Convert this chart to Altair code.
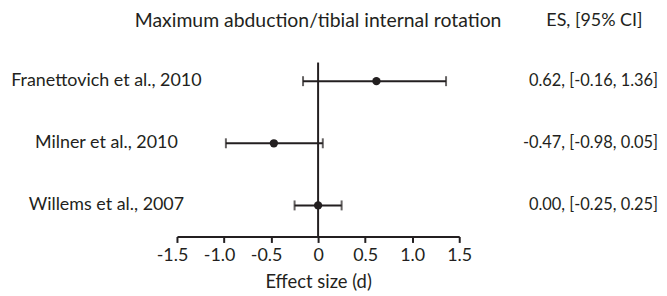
import altair as alt
import pandas as pd

# ---- data ----
studies = ["Franettovich et al., 2010", "Milner et al., 2010", "Willems et al., 2007"]
row_pos = [3, 2, 1]
es = [0.62, -0.47, 0.00]
ci_low = [-0.16, -0.98, -0.25]
ci_high = [1.36, 0.05, 0.25]
ci_text = ["0.62, [-0.16, 1.36]", "-0.47, [-0.98, 0.05]", "0.00, [-0.25, 0.25]"]
x_ticks = [-1.5, -1.0, -0.5, 0, 0.5, 1.0, 1.5]
main_title = "Maximum abduction/tibial internal rotation"
ci_header = "ES, [95% CI]"
x_title = "Effect size (d)"

FONT = "Lato"
INK = "#231f20"

df = pd.DataFrame({"study": studies, "row": row_pos, "es": es,
                   "lo": ci_low, "hi": ci_high, "ci": ci_text})
zero_df = pd.DataFrame({"x": [0.0], "y": [0.5], "y2": [3.3]})
head_df = pd.DataFrame({"x": [0.0], "t": [main_title], "h": [ci_header]})

xscale = alt.Scale(domain=[-1.5, 1.5], nice=False, zero=False)
yscale = alt.Scale(domain=[0.5, 3.3], nice=False, zero=False)

label_expr = "datum.value == 0 ? '0' : (datum.value < 0 ? '-' : '') + format(abs(datum.value), '.1f')"

xaxis = alt.Axis(values=x_ticks, title=x_title, labelExpr=label_expr,
                 grid=False, domainColor=INK, domainWidth=2, tickColor=INK,
                 tickWidth=2, tickSize=6, labelFont=FONT, labelFontSize=18,
                 labelColor=INK, labelPadding=4, labelFlush=False, labelOverlap=False,
                 titleFont=FONT, titleFontSize=18.5,
                 titleFontWeight="normal", titleColor=INK, titlePadding=8,
                 labelOffset={"condition": {"test": "datum.value < 0", "value": -5}, "value": 0})

base = alt.Chart(df)

zero_rule = alt.Chart(zero_df).mark_rule(color=INK, strokeWidth=2).encode(
    x=alt.X("x:Q", scale=xscale, axis=xaxis),
    y=alt.Y("y:Q", scale=yscale, axis=None),
    y2="y2:Q",
)

bars = base.mark_rule(color=INK, strokeWidth=2).encode(
    x=alt.X("lo:Q", scale=xscale), x2="hi:Q",
    y=alt.Y("row:Q", scale=yscale))

cap_lo = base.mark_tick(orient="vertical", color=INK, thickness=2, size=10).encode(
    x=alt.X("lo:Q", scale=xscale), y=alt.Y("row:Q", scale=yscale))
cap_hi = base.mark_tick(orient="vertical", color=INK, thickness=2, size=10).encode(
    x=alt.X("hi:Q", scale=xscale), y=alt.Y("row:Q", scale=yscale))

points = base.mark_point(filled=True, color=INK, size=70, opacity=1).encode(
    x=alt.X("es:Q", scale=xscale), y=alt.Y("row:Q", scale=yscale))

left_labels = base.mark_text(align="center", baseline="middle", font=FONT,
                             fontSize=18, color=INK).encode(
    x=alt.value(-71), y=alt.Y("row:Q", scale=yscale), text="study:N")

right_labels = base.mark_text(align="right", baseline="middle", font=FONT,
                              fontSize=16.5, color=INK).encode(
    x=alt.value(484), y=alt.Y("row:Q", scale=yscale), text="ci:N")

title_text = alt.Chart(head_df).mark_text(align="center", baseline="middle",
                                          font=FONT, fontSize=19.5, color=INK).encode(
    x=alt.X("x:Q", scale=xscale), y=alt.value(-42), text="t:N")

header_text = alt.Chart(head_df).mark_text(align="center", baseline="middle",
                                           font=FONT, fontSize=18, color=INK).encode(
    x=alt.value(420), y=alt.value(-42), text="h:N")

chart = alt.layer(zero_rule, bars, cap_lo, cap_hi, points, left_labels,
                  right_labels, title_text, header_text).properties(
    width=284, height=175,
    autosize=alt.AutoSizeParams(type="none"),
    padding={"left": 170, "top": 54, "right": 201, "bottom": 56},
    background="white",
).configure_view(stroke=None)

chart.save("out.html", embed_options={"renderer": "svg", "actions": False})
